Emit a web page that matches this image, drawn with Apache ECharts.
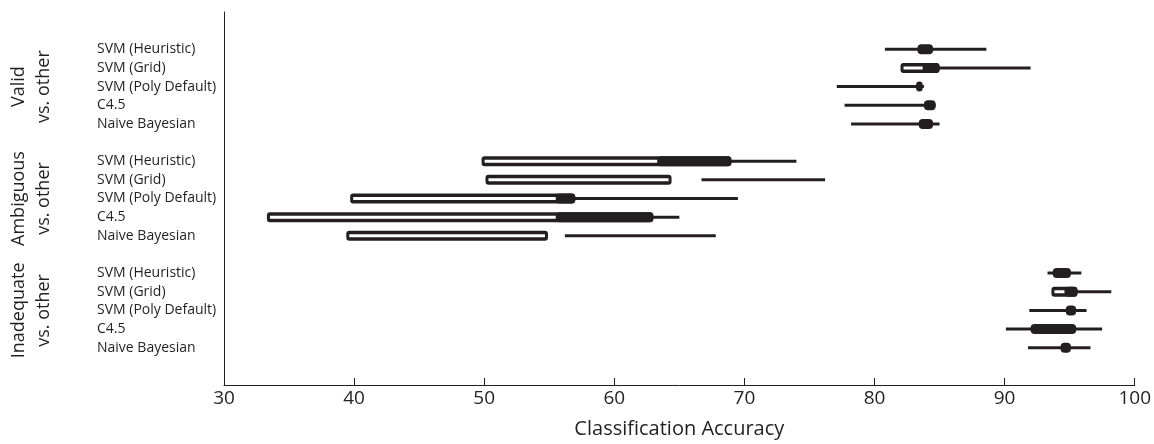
<!DOCTYPE html>
<html>
<head>
<meta charset="utf-8">
<script src="https://cdn.jsdelivr.net/npm/echarts@6/dist/echarts.min.js"></script>
<style>
  html, body { margin: 0; padding: 0; background: #fff; }
  #chart { width: 1154px; height: 444px; }
</style>
</head>
<body>
<div id="chart"></div>
<script>
// methods inside each group, groups top to bottom
const methods = ['SVM (Heuristic)', 'SVM (Grid)', 'SVM (Poly Default)', 'C4.5', 'Naive Bayesian'];
const groupNames = ['Valid', 'Ambiguous', 'Inadequate'];
const groupSub = ['vs. other', 'vs. other', 'vs. other'];
const xTicks = [30, 40, 50, 60, 70, 80, 90, 100];

// thin line range
const whiskerLow  = [80.8, 82.5, 77.1, 77.7, 78.2,   63.5, 66.7, 56.0, 56.0, 56.2,   93.3, 95.0, 91.9, 90.1, 91.8];
const whiskerHigh = [88.6, 92.0, 83.8, 84.7, 85.0,   74.0, 76.2, 69.5, 65.0, 67.8,   95.9, 98.2, 96.3, 97.5, 96.6];
// outlined (hollow) range
const hollowLow  = [null, 82.0, null, null, null,   49.8, 50.1, 39.7, 33.3, 39.4,   null, 93.6, null, null, null];
const hollowHigh = [null, 85.0, null, null, null,   69.0, 64.4, 57.0, 63.0, 54.9,   null, 95.6, null, null, null];
// filled range
const solidLow  = [83.3, 83.7, 83.2, 83.8, 83.4,   63.3, null, 55.5, 55.5, null,   93.7, 94.6, 94.7, 92.0, 94.3];
const solidHigh = [84.5, 85.0, 83.7, 84.7, 84.5,   69.0, null, 57.0, 63.0, null,   95.1, 95.6, 95.5, 95.5, 95.1];

const ink = '#231f20';
const rowPos = [];
const rowName = {};
const rows = [];
groupNames.forEach(function (g, gi) {
  methods.forEach(function (m, mi) {
    const y = gi * 6 + mi;
    const k = gi * 5 + mi;
    rowPos.push(y);
    rowName[y] = m;
    rows.push([y, whiskerLow[k], whiskerHigh[k]]);
  });
});
const groupPos = groupNames.map(function (g, gi) { return [gi * 6 + 2]; });

function renderRow(params, api) {
  const k = params.dataIndex;
  const y = api.value(0);
  const kids = [];
  const w0 = api.coord([whiskerLow[k], y]);
  const w1 = api.coord([whiskerHigh[k], y]);
  kids.push({ type: 'line', shape: { x1: w0[0], y1: w0[1], x2: w1[0], y2: w1[1] },
    style: { stroke: ink, lineWidth: 3 } });
  if (hollowLow[k] !== null) {
    const h0 = api.coord([hollowLow[k], y]);
    const h1 = api.coord([hollowHigh[k], y]);
    kids.push({ type: 'rect', shape: { x: h0[0], y: h0[1] - 5, width: h1[0] - h0[0], height: 10, r: 3 },
      style: { fill: ink } });
    kids.push({ type: 'rect', shape: { x: h0[0] + 3, y: h0[1] - 1.5, width: h1[0] - h0[0] - 6, height: 3 },
      style: { fill: '#fff' } });
  }
  if (solidLow[k] !== null) {
    const s0 = api.coord([solidLow[k], y]);
    const s1 = api.coord([solidHigh[k], y]);
    const wd = s1[0] - s0[0];
    kids.push({ type: 'rect', shape: { x: s0[0], y: s0[1] - 5, width: wd, height: 10, r: Math.min(4, wd / 2) },
      style: { fill: ink } });
  }
  return { type: 'group', children: kids };
}

function renderGroup(params, api) {
  const i = params.dataIndex;
  const p = api.coord([30, api.value(0)]);
  return {
    type: 'group',
    children: [
      { type: 'text', x: p[0] - 205, y: p[1], rotation: Math.PI / 2,
        style: { text: groupNames[i], fill: ink, font: '18px "Open Sans"', align: 'center', verticalAlign: 'middle' } },
      { type: 'text', x: p[0] - 180, y: p[1], rotation: Math.PI / 2,
        style: { text: groupSub[i], fill: ink, font: '18px "Open Sans"', align: 'center', verticalAlign: 'middle' } }
    ]
  };
}

const chart = echarts.init(document.getElementById('chart'));
chart.setOption({
  animation: false,
  backgroundColor: '#fff',
  grid: { left: 224, right: 17, top: 12, bottom: 56 },
  xAxis: {
    type: 'value', min: 30, max: 100, interval: 10,
    name: 'Classification Accuracy', nameLocation: 'middle', nameGap: 34,
    nameTextStyle: { color: ink, fontSize: 20, fontFamily: 'Open Sans' },
    axisLine: { onZero: false, lineStyle: { color: ink, width: 1 } },
    axisTick: { inside: true, length: 7, lineStyle: { color: ink } },
    axisLabel: { color: ink, fontSize: 19, fontFamily: 'Open Sans', margin: 4 },
    splitLine: { show: false }
  },
  yAxis: {
    type: 'value', min: -2, max: 18, inverse: true,
    axisLine: { show: true, onZero: false, lineStyle: { color: ink, width: 1 } },
    axisTick: { show: false },
    splitLine: { show: false },
    axisLabel: {
      customValues: rowPos,
      formatter: function (v) { return rowName[v] || ''; },
      align: 'left', margin: 127,
      color: ink, fontSize: 14, fontFamily: 'Open Sans'
    }
  },
  series: [
    { type: 'custom', renderItem: renderRow, data: rows, encode: { x: [1, 2], y: 0 } },
    { type: 'custom', renderItem: renderGroup, data: groupPos, encode: { y: 0 } }
  ]
});
</script>
</body>
</html>
